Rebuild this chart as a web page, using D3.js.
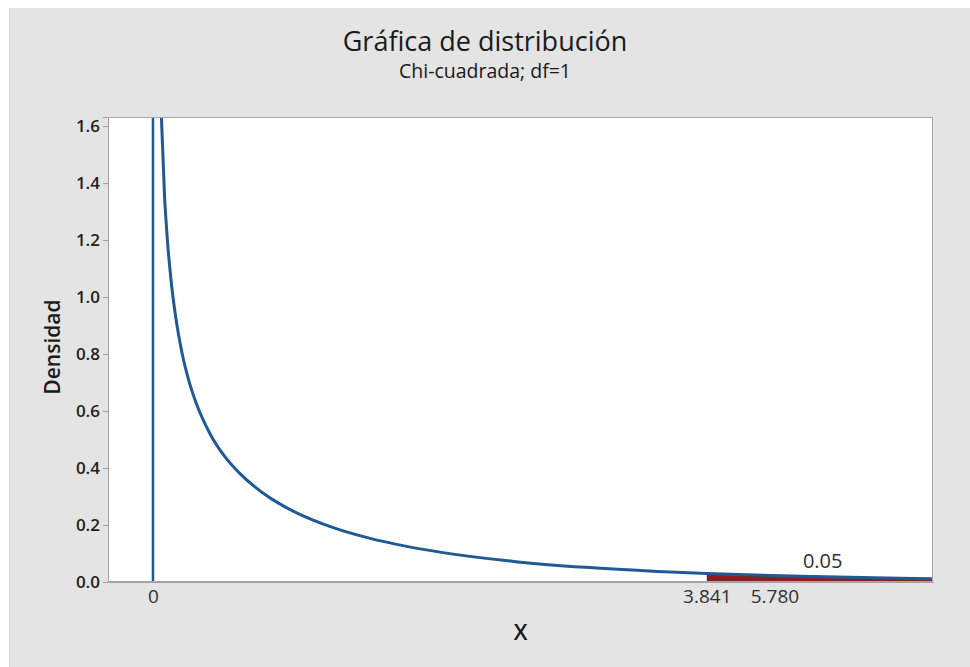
<!DOCTYPE html>
<html>
<head>
<meta charset="utf-8">
<script src="https://cdn.jsdelivr.net/npm/d3@7"></script>
<style>
  html, body { margin: 0; padding: 0; background: #ffffff; }
  svg { display: block; }
</style>
</head>
<body>
<svg id="chart" width="970" height="667"></svg>
<script>
// Chi-square (df = 1) density, sampled points
const xValues = [0.05, 0.08, 0.10, 0.13, 0.16, 0.20, 0.25, 0.30, 0.40, 0.50, 0.60, 0.75, 0.90,
                 1.00, 1.25, 1.50, 1.75, 2.00, 2.50, 3.00, 3.50, 3.841, 4.00, 4.50, 5.00, 5.41];
const densityValues = [1.740, 1.355, 1.200, 1.037, 0.921, 0.807, 0.704, 0.627, 0.516, 0.439, 0.382, 0.317, 0.268,
                       0.242, 0.191, 0.154, 0.126, 0.104, 0.0723, 0.0514, 0.0371, 0.0298, 0.0270, 0.0198, 0.0146, 0.0115];

// Axis ticks
const yTicks = [0.0, 0.2, 0.4, 0.6, 0.8, 1.0, 1.2, 1.4, 1.6];
const xTickValues = [0, 3.841, 4.31];
const xTickLabels = ["0", "3.841", "5.780"];

// Critical value, shaded tail probability and its label
const criticalValue = 3.841;
const tailProbability = "0.05";
const tailLabelX = 4.645;

const W = 970, H = 667;
const margin = { left: 108, right: 37, top: 117, bottom: 85 };
const svg = d3.select("#chart");
const font = "'Open Sans', sans-serif";

// Background panel
svg.append("rect").attr("x", 9).attr("y", 8).attr("width", W - 9).attr("height", H - 8).attr("fill", "#e4e4e4");
svg.append("line").attr("x1", 9.5).attr("x2", 9.5).attr("y1", 8).attr("y2", H)
  .attr("stroke", "#d6d6d6").attr("stroke-width", 1);

const x = d3.scaleLinear().domain([-0.312, 5.41]).range([margin.left, W - margin.right]);
const y = d3.scaleLinear().domain([0, 1.632]).range([H - margin.bottom, margin.top]);

// Plot area
svg.append("rect")
  .attr("x", margin.left).attr("y", margin.top)
  .attr("width", W - margin.left - margin.right)
  .attr("height", H - margin.top - margin.bottom)
  .attr("fill", "#ffffff");

svg.append("clipPath").attr("id", "plotClip").append("rect")
  .attr("x", margin.left).attr("y", margin.top)
  .attr("width", W - margin.left - margin.right)
  .attr("height", H - margin.top - margin.bottom);

const points = xValues.map((v, i) => ({ x: v, d: densityValues[i] }));
const tail = points.filter(p => p.x >= criticalValue);

const plot = svg.append("g").attr("clip-path", "url(#plotClip)");

// Shaded rejection region
plot.append("path")
  .datum(tail)
  .attr("fill", "#8c1d20")
  .attr("d", d3.area().x(p => x(p.x)).y0(y(0)).y1(p => y(p.d)).curve(d3.curveMonotoneX));

// Vertical line at x = 0
plot.append("line")
  .attr("x1", x(0)).attr("x2", x(0))
  .attr("y1", y(0)).attr("y2", margin.top)
  .attr("stroke", "#1f5a96").attr("stroke-width", 2.5);

// Density curve
plot.append("path")
  .datum(points)
  .attr("fill", "none")
  .attr("stroke", "#1f5a96")
  .attr("stroke-width", 3)
  .attr("d", d3.line().x(p => x(p.x)).y(p => y(p.d)).curve(d3.curveMonotoneX));

// Frame
svg.append("rect")
  .attr("x", margin.left + 0.5).attr("y", margin.top + 0.5)
  .attr("width", W - margin.left - margin.right - 1)
  .attr("height", H - margin.top - margin.bottom - 1)
  .attr("fill", "none").attr("stroke", "#a8a8a8").attr("stroke-width", 1);

// Y axis
const yAxis = svg.append("g")
  .attr("transform", `translate(${margin.left},0)`)
  .call(d3.axisLeft(y).tickValues(yTicks).tickFormat(d3.format(".1f")).tickSize(5).tickPadding(3));
yAxis.select(".domain").attr("stroke", "#a0a0a0");
yAxis.selectAll(".tick line").attr("stroke", "#a0a0a0");
yAxis.selectAll(".tick text")
  .attr("fill", "#1e1e1e")
  .style("font-family", font)
  .style("font-size", "17px")
  .style("font-weight", "600");

// X axis
const xAxis = svg.append("g")
  .attr("transform", `translate(0,${H - margin.bottom})`)
  .call(d3.axisBottom(x).tickValues(xTickValues).tickFormat((d, i) => xTickLabels[i]).tickSize(0).tickPadding(8));
xAxis.select(".domain").attr("stroke", "#a0a0a0");
xAxis.selectAll(".tick text")
  .attr("fill", "#303030")
  .style("font-family", font)
  .style("font-size", "19px");

// Tail probability label
svg.append("text")
  .attr("x", x(tailLabelX)).attr("y", 568)
  .attr("text-anchor", "middle")
  .attr("fill", "#303030")
  .style("font-family", font)
  .style("font-size", "20px")
  .text(tailProbability);

// Titles
svg.append("text")
  .attr("x", 485).attr("y", 51)
  .attr("text-anchor", "middle")
  .attr("fill", "#1a1a1a")
  .style("font-family", font)
  .style("font-size", "27px")
  .text("Gráfica de distribución");

svg.append("text")
  .attr("x", 485).attr("y", 78)
  .attr("text-anchor", "middle")
  .attr("fill", "#1a1a1a")
  .style("font-family", font)
  .style("font-size", "19.5px")
  .text("Chi-cuadrada; df=1");

// Axis titles
svg.append("text")
  .attr("x", (margin.left + W - margin.right) / 2).attr("y", 640)
  .attr("text-anchor", "middle")
  .attr("fill", "#1a1a1a")
  .style("font-family", font)
  .style("font-size", "22px")
  .style("font-weight", "600")
  .text("X");

svg.append("text")
  .attr("transform", "translate(60,347) rotate(-90)")
  .attr("text-anchor", "middle")
  .attr("fill", "#1a1a1a")
  .style("font-family", font)
  .style("font-size", "21px")
  .style("font-weight", "600")
  .text("Densidad");
</script>
</body>
</html>
